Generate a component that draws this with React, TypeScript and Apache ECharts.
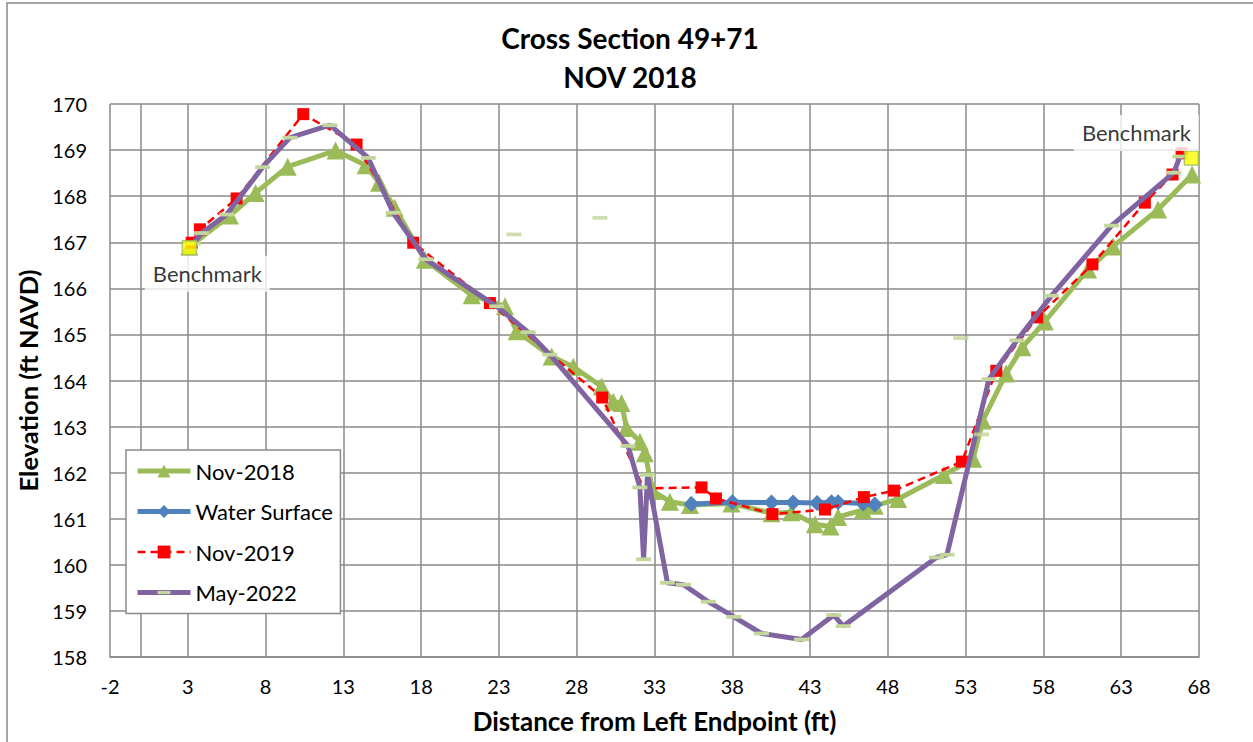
import React, { useEffect, useRef } from 'react';
import * as echarts from 'echarts';

// ---- data ----
const nov2018X = [3.1, 5.71, 7.36, 9.42, 12.5, 14.43, 15.3, 16.3, 18.24, 21.25, 23.39, 24.14, 26.39, 27.78, 29.6, 30.35, 30.88, 31.2, 32.06, 32.38, 32.9, 33.99, 35.28, 37.95, 40.52, 41.8, 43.31, 44.31, 44.8, 46.4, 47.16, 48.66, 51.6, 53.48, 54.1, 55.6, 56.65, 58.09, 60.87, 62.48, 65.37, 67.56];
const nov2018Y = [166.9, 167.58, 168.07, 168.64, 168.99, 168.67, 168.29, 167.75, 166.62, 165.85, 165.61, 165.07, 164.52, 164.3, 163.87, 163.54, 163.51, 162.97, 162.67, 162.42, 161.6, 161.37, 161.3, 161.33, 161.12, 161.14, 160.88, 160.83, 161.04, 161.19, 161.28, 161.43, 161.95, 162.3, 163.13, 164.15, 164.72, 165.28, 166.41, 166.91, 167.71, 168.47];

const waterX = [35.38, 38.01, 40.52, 41.91, 43.45, 44.38, 44.8, 46.41, 47.16];
const waterY = [161.32, 161.36, 161.35, 161.35, 161.34, 161.36, 161.36, 161.33, 161.31];

const nov2019X = [3.25, 3.78, 6.14, 10.42, 13.85, 17.49, 22.42, 29.64, 32.3, 36.02, 36.95, 40.58, 43.96, 46.46, 48.39, 52.76, 54.97, 57.6, 61.15, 64.52, 66.3, 66.88];
const nov2019Y = [166.99, 167.28, 167.95, 169.78, 169.12, 166.99, 165.68, 163.63, 161.66, 161.68, 161.44, 161.1, 161.2, 161.47, 161.61, 162.24, 164.21, 165.37, 166.52, 167.86, 168.47, 168.93];
const nov2019Marked = [1, 1, 1, 1, 1, 1, 1, 1, 0, 1, 1, 1, 1, 1, 1, 1, 1, 1, 1, 1, 1, 1];

const may2022X = [3.36, 3.89, 5.5, 7.81, 9.57, 12.14, 14.6, 16.2, 18.3, 22.85, 24.88, 26.28, 31.3, 32.06, 32.3, 32.55, 33.83, 34.86, 36.46, 38.1, 39.88, 42.45, 44.53, 45.13, 51.12, 51.8, 54.5, 56.3, 58.52, 62.38, 66.38, 66.77];
const may2022Y = [166.97, 167.2, 167.6, 168.63, 169.27, 169.54, 168.83, 167.64, 166.63, 165.61, 165.05, 164.56, 162.58, 161.68, 160.12, 161.95, 159.61, 159.57, 159.2, 158.87, 158.51, 158.38, 158.91, 158.67, 160.16, 160.22, 164.03, 164.87, 165.84, 167.36, 168.51, 168.86];

// isolated May-2022 survey points (not joined by the line)
const may2022LoneX = [23.96, 29.49, 52.69, 54.02];
const may2022LoneY = [167.17, 167.53, 164.92, 162.83];

const benchmarkX = [3.1, 67.51];
const benchmarkY = [166.88, 168.83];
const benchmarkText = 'Benchmark';

const seriesNames = ['Nov-2018', 'Water Surface', 'Nov-2019', 'May-2022'];
const titleLines = ['Cross Section 49+71', 'NOV 2018'];
const xAxisName = 'Distance from Left Endpoint (ft)';
const yAxisName = 'Elevation (ft NAVD)';

const zip = (xs: number[], ys: number[]) => xs.map((x, i) => [x, ys[i]]);

const FONT = 'Lato, "Open Sans", sans-serif';
const GREEN = '#9BBB59';
const BLUE = '#4F81BD';
const RED = '#FF0000';
const PURPLE = '#8064A2';
const DASH_GREEN = '#C3D69B';
const GRID = '#8A8A8A';
// a horizontal dash inside a square box (lone move-to points keep the box square)
const DASH_SYMBOL = 'path://M8,0M0,6h16v4h-16zM8,16';

export default function App() {
  const ref = useRef<HTMLDivElement>(null);

  useEffect(() => {
    if (!ref.current) return;
    const chart = echarts.init(ref.current, null, { renderer: 'svg' });

    const labelOffsets = [[18, 26], [-55, -25]];

    const option: any = {
      animation: false,
      backgroundColor: '#fff',
      graphic: [
        {
          type: 'rect',
          shape: { x: 7, y: 3, width: 1270, height: 760 },
          style: { fill: 'none', stroke: GRID, lineWidth: 1.5 },
          z: 0,
          silent: true,
        },
        {
          type: 'text',
          x: 630,
          y: 38,
          style: {
            text: titleLines[0],
            font: `bold 28px ${FONT}`,
            fill: '#000',
            align: 'center',
            verticalAlign: 'middle',
          },
        },
        {
          type: 'text',
          x: 630,
          y: 77,
          style: {
            text: titleLines[1],
            font: `bold 28px ${FONT}`,
            fill: '#000',
            align: 'center',
            verticalAlign: 'middle',
          },
        },
      ],
      grid: { left: 110, top: 104, width: 1089, height: 553, containLabel: false },
      legend: {
        data: seriesNames,
        orient: 'vertical',
        left: 126,
        top: 450,
        padding: [10, 7, 10, 9],
        itemWidth: 53,
        itemHeight: 16,
        itemGap: 18.5,
        backgroundColor: '#fff',
        borderColor: GRID,
        borderWidth: 1.5,
        lineStyle: { width: 'inherit' },
        textStyle: { fontFamily: FONT, fontSize: 22, color: '#000' },
        z: 20,
      },
      xAxis: {
        type: 'value',
        min: -2,
        max: 68,
        interval: 5,
        name: xAxisName,
        nameLocation: 'middle',
        nameGap: 51,
        nameTextStyle: { fontFamily: FONT, fontSize: 26, fontWeight: 'bold', color: '#000' },
        axisLine: { show: true, lineStyle: { color: GRID, width: 1.5 } },
        axisTick: { show: false },
        axisLabel: { fontFamily: FONT, fontSize: 20, color: '#000', margin: 19 },
        splitLine: { show: true, lineStyle: { color: GRID, width: 1.5 } },
      },
      yAxis: {
        type: 'value',
        min: 158,
        max: 170,
        interval: 1,
        name: yAxisName,
        nameLocation: 'middle',
        nameGap: 65,
        nameTextStyle: { fontFamily: FONT, fontSize: 25.5, fontWeight: 'bold', color: '#000' },
        axisLine: { show: true, lineStyle: { color: GRID, width: 1.5 } },
        axisTick: { show: false },
        axisLabel: { fontFamily: FONT, fontSize: 20, color: '#000', margin: 23 },
        splitLine: { show: true, lineStyle: { color: GRID, width: 1.5 } },
      },
      series: [
        {
          name: seriesNames[0],
          type: 'line',
          data: zip(nov2018X, nov2018Y),
          symbol: 'triangle',
          symbolSize: 18,
          showAllSymbol: true,
          lineStyle: { color: GREEN, width: 5 },
          itemStyle: { color: GREEN },
          z: 2,
        },
        {
          name: seriesNames[1],
          type: 'line',
          data: zip(waterX, waterY),
          symbol: 'diamond',
          symbolSize: 16,
          showAllSymbol: true,
          lineStyle: { color: BLUE, width: 5 },
          itemStyle: { color: BLUE },
          z: 3,
        },
        {
          name: seriesNames[2],
          type: 'line',
          data: nov2019X.map((x, i) => ({
            value: [x, nov2019Y[i]],
            symbolSize: nov2019Marked[i] ? 12 : 0,
          })),
          symbol: 'rect',
          symbolSize: 12,
          showAllSymbol: true,
          lineStyle: { color: RED, width: 2.5, type: [8, 5] },
          itemStyle: { color: RED },
          z: 4,
        },
        {
          name: seriesNames[3],
          type: 'line',
          data: zip(may2022X, may2022Y),
          symbol: DASH_SYMBOL,
          symbolSize: 15,
          showAllSymbol: true,
          lineStyle: { color: PURPLE, width: 5 },
          itemStyle: { color: DASH_GREEN },
          z: 5,
        },
        {
          name: 'May-2022 points',
          type: 'scatter',
          data: zip(may2022LoneX, may2022LoneY),
          symbol: DASH_SYMBOL,
          symbolSize: 15,
          itemStyle: { color: DASH_GREEN },
          z: 5,
        },
        {
          name: 'Benchmark',
          type: 'scatter',
          data: benchmarkX.map((x, i) => ({
            value: [x, benchmarkY[i]],
            label: { offset: labelOffsets[i] },
          })),
          symbol: 'rect',
          symbolSize: 14,
          itemStyle: { color: '#FFFF00', borderColor: GREEN, borderWidth: 1.5 },
          label: {
            show: true,
            formatter: benchmarkText,
            position: 'inside',
            fontFamily: FONT,
            fontSize: 22,
            color: '#000',
            backgroundColor: '#fff',
            padding: [7, 8],
          },
          z: 10,
        },
      ],
    };

    chart.setOption(option);
    return () => chart.dispose();
  }, []);

  return (
    <div
      ref={ref}
      style={{ position: 'fixed', left: 0, top: 0, width: 1253, height: 742, background: '#fff' }}
    />
  );
}
